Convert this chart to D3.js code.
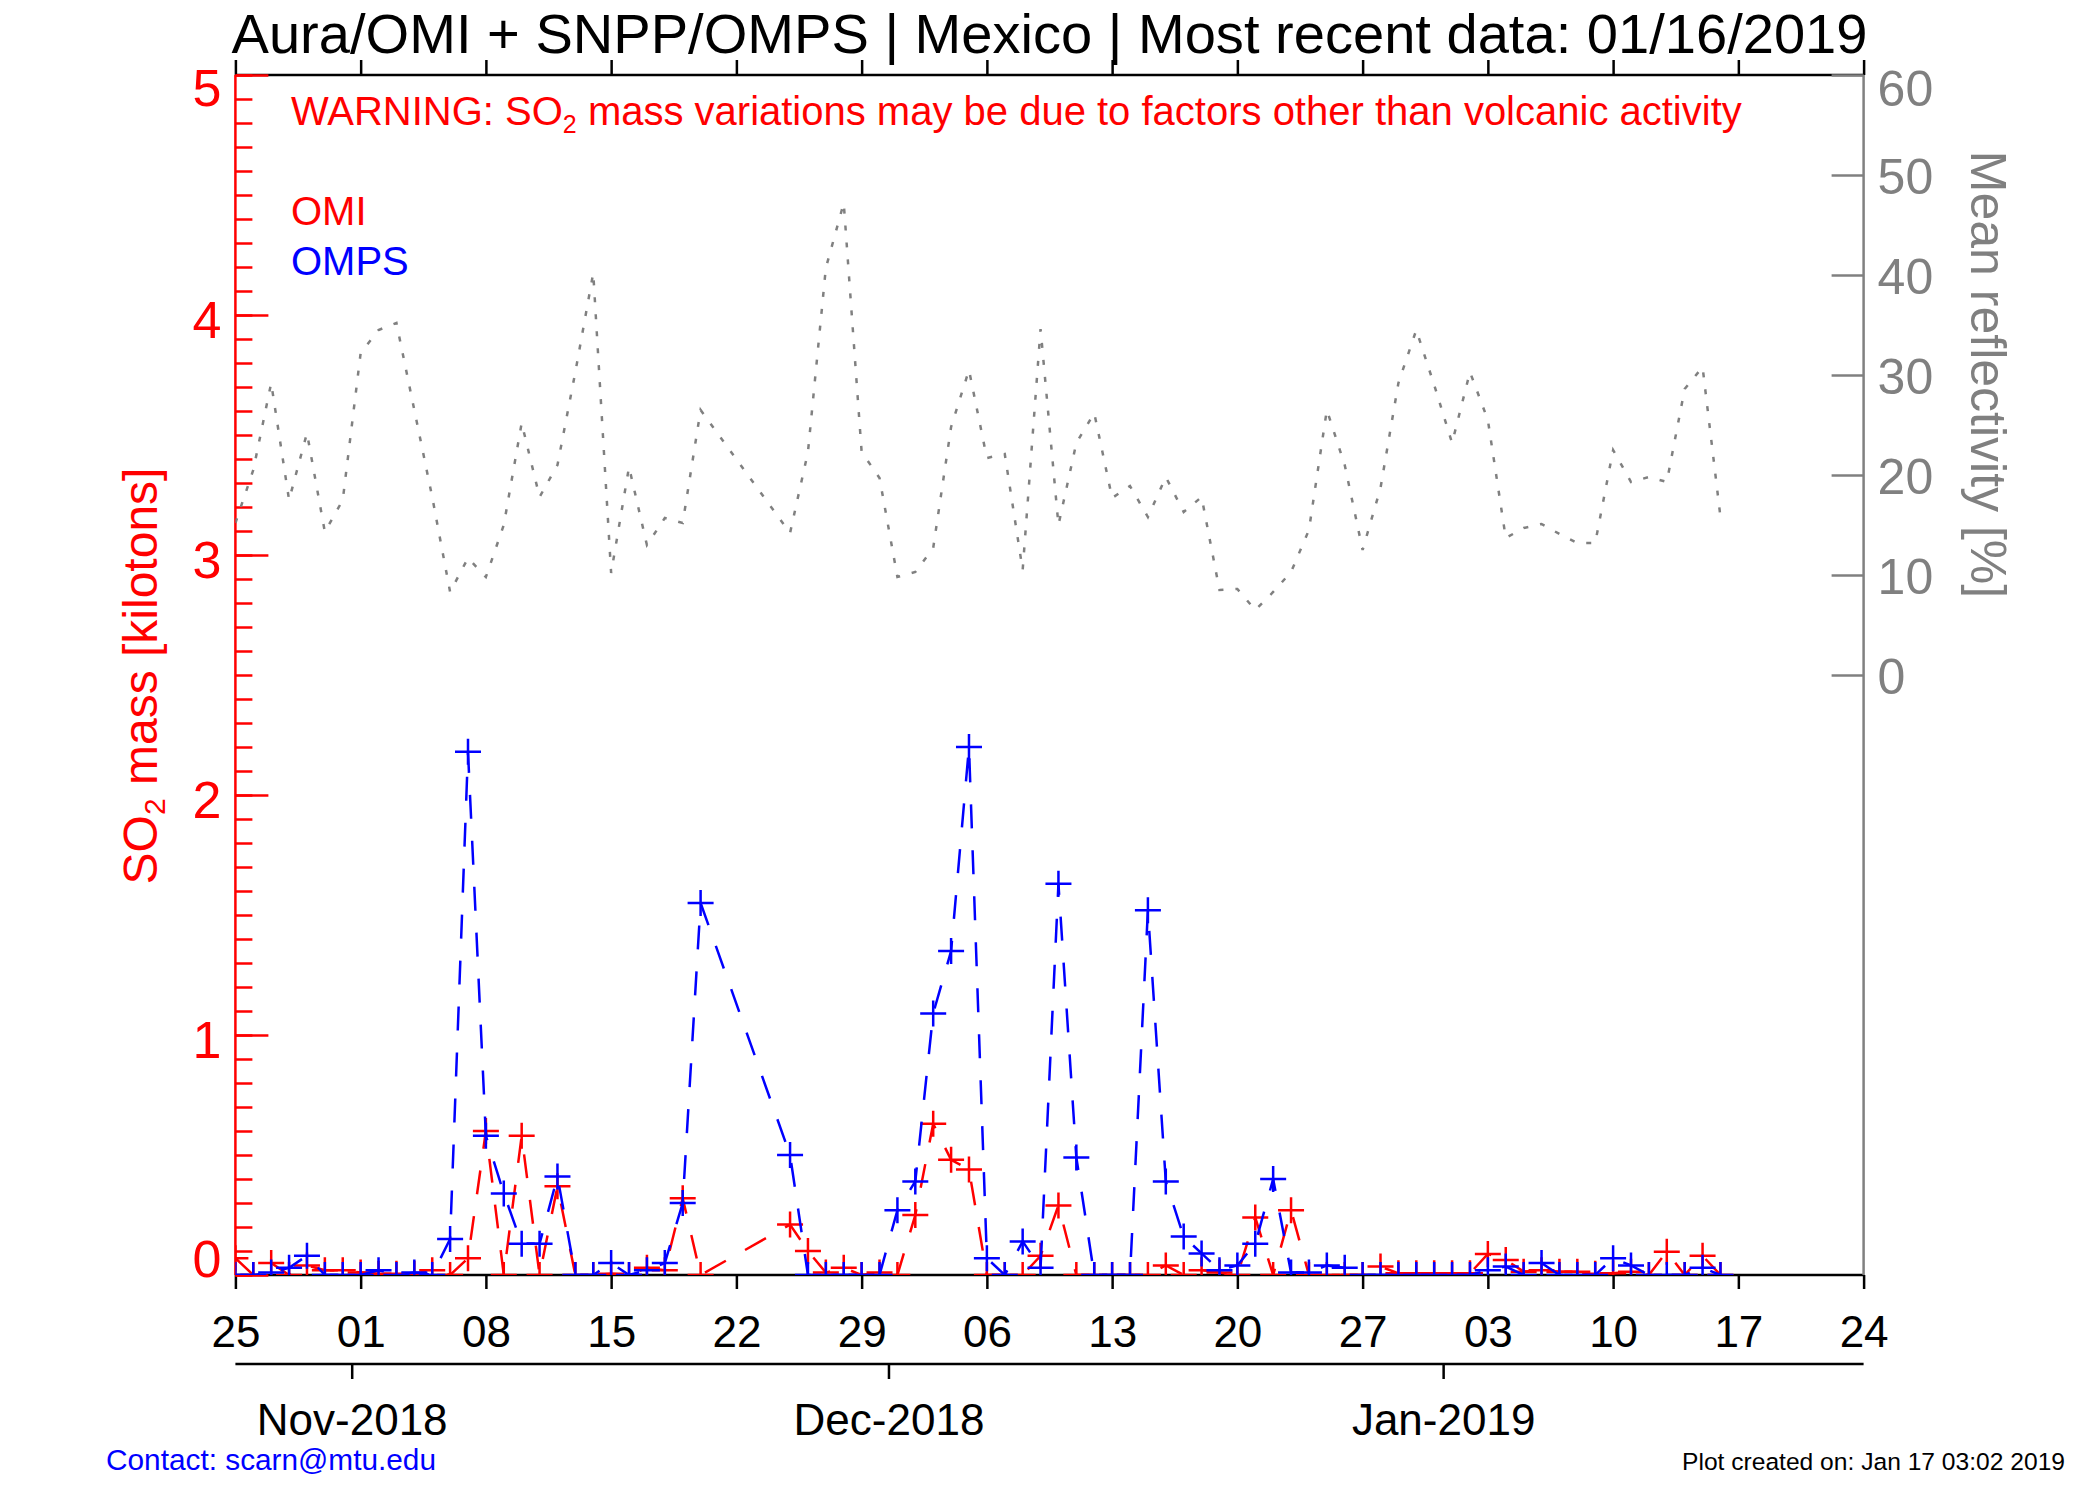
<!DOCTYPE html>
<html><head><meta charset="utf-8">
<script src="https://cdn.jsdelivr.net/npm/d3@7"></script>
<style>
html,body{margin:0;padding:0;background:#fff;}
svg{display:block;}
text{font-family:"Liberation Sans",Arial,Helvetica,sans-serif;}
</style>
</head><body>
<svg id="chart" width="2100" height="1500"></svg>
<script>
// ---------------- DATA ----------------
const axisStart = "2018-10-25";
const axisEnd = "2019-01-24";
const firstObs = "2018-10-25";
const lastObsExclusive = "2019-01-17";

const weekTickDates = ["2018-10-25","2018-11-01","2018-11-08","2018-11-15","2018-11-22","2018-11-29",
  "2018-12-06","2018-12-13","2018-12-20","2018-12-27","2019-01-03","2019-01-10","2019-01-17","2019-01-24"];
const weekTickLabels = ["25","01","08","15","22","29","06","13","20","27","03","10","17","24"];
const monthStarts = ["2018-11-01","2018-12-01","2019-01-01"];
const monthLabels = ["Nov-2018","Dec-2018","Jan-2019"];
const massTicks = [0,1,2,3,4,5];
const massTickLabels = ["0","1","2","3","4","5"];
const reflTicks = [0,10,20,30,40,50,60];
const reflTickLabels = ["0","10","20","30","40","50","60"];

// SO2 mass [kt], one value per day from 2018-10-25 to 2019-01-16 (null = no data)
const omiMass = [
  0.07,0,0.05,0,0.04,0.02,0.02,0.01,0.005,0.005,
  0.005,0.02,0,0.07,0.60,0,0.58,0,0.37,0,
  0,0.005,0,0.03,0.02,0.32,0,null,null,null,
  null,0.21,0.10,0.01,0.03,0,0.01,0,0.25,0.63,
  0.48,0.44,0,0,0,0.08,0.29,0,0,0,
  0,0,0.04,0,0.02,0.01,0,0.24,0,0.27,
  0,0,0,0,0.035,0.007,0.007,0.007,0.007,0.007,
  0.088,0.063,0.014,0.02,0.014,0.014,0.005,0.007,0.014,0,
  0.097,0,0.08,0];
const ompsMass = [
  0,0,0.01,0.03,0.08,0,0,0,0.02,0,
  0.01,0,0.15,2.18,0.58,0.34,0.13,0.13,0.41,0,
  0,0.05,0,0.02,0.05,0.30,1.55,null,null,null,
  null,0.50,0,0,0,0,0,0.27,0.39,1.09,
  1.35,2.20,0.07,0,0.14,0.03,1.63,0.49,0,0,
  0,1.52,0.39,0.16,0.09,0.02,0.04,0.13,0.40,0.01,
  0.01,0.04,0.03,0,0,0,0,0,0,0,
  0.02,0.035,0,0.05,0,0,0,0.07,0.04,0,
  0,0,0.03,0];
// Mean reflectivity [%]
const reflectivity = [
  15.2,20.5,29.2,17.5,24.2,14.3,17.5,32.2,34.5,35.2,
  26.5,17.8,8.3,11.7,9.8,15.0,25.2,17.8,21.0,30.3,
  40.2,10.2,20.8,13.0,15.7,15.2,26.5,null,null,null,
  null,14.2,22.3,40.7,47.2,22.3,19.7,9.8,10.3,12.7,
  24.8,30.5,21.7,22.1,10.5,34.6,15.0,23.2,26.2,17.7,
  18.9,15.8,19.8,16.3,17.8,8.5,8.6,6.5,8.3,10.3,
  14.5,26.5,21.0,12.5,18.7,29.2,34.5,29.0,23.2,30.3,
  25.5,13.7,14.7,15.1,14.1,13.2,13.2,22.5,19.3,19.8,
  19.3,28.6,30.8,15.8];

const titleText = "Aura/OMI + SNPP/OMPS | Mexico | Most recent data: 01/16/2019";

// ---------------- LAYOUT ----------------
const L = 235.4, R = 1863.6, T = 75, B = 1275;
const RED = "#ff0000", BLUE = "#0000ff", GRAY = "#808080";
const svg = d3.select("#chart");
svg.append("rect").attr("width",2100).attr("height",1500).attr("fill","#fff");

const parse = s => new Date(s + "T00:00:00Z");
const days = d3.utcDay.range(parse(firstObs), parse(lastObsExclusive));

const x = d3.scaleUtc().domain([parse(axisStart), parse(axisEnd)]).range([L, R]);
const yL = d3.scaleLinear().domain([0,5]).range([B, T]);
const yR = d3.scaleLinear().domain([0,60]).range([675, T]);

function styleAxis(g, color, fs){
  g.select(".domain").remove();
  g.selectAll(".tick line").attr("stroke", color).attr("stroke-width", 2.5);
  g.selectAll(".tick text").attr("fill", color).attr("font-size", fs)
    .attr("font-family", '"Liberation Sans",Arial,Helvetica,sans-serif');
}

// bottom date axis
const gB = svg.append("g").attr("transform", `translate(0,${B})`)
  .call(d3.axisBottom(x).tickValues(weekTickDates.map(parse))
    .tickFormat((d,i)=>weekTickLabels[i]).tickSize(14).tickPadding(27));
styleAxis(gB, "#000", 44);
svg.append("line").attr("x1",L).attr("x2",R).attr("y1",B).attr("y2",B).attr("stroke","#000").attr("stroke-width",2.5);

// top axis
const gT = svg.append("g").attr("transform", `translate(0,${T})`)
  .call(d3.axisTop(x).tickValues(weekTickDates.map(parse)).tickFormat("").tickSize(15));
styleAxis(gT, "#000", 44);
svg.append("line").attr("x1",L).attr("x2",R).attr("y1",T).attr("y2",T).attr("stroke","#000").attr("stroke-width",2.5);

// month axis (ticks half a day before month start)
const monthPos = monthStarts.map(s => d3.utcHour.offset(parse(s), -12));
const gM = svg.append("g").attr("transform", "translate(0,1364)")
  .call(d3.axisBottom(x).tickValues(monthPos).tickFormat((d,i)=>monthLabels[i]).tickSize(15).tickPadding(25));
styleAxis(gM, "#000", 44);
svg.append("line").attr("x1",L).attr("x2",R).attr("y1",1364).attr("y2",1364).attr("stroke","#000").attr("stroke-width",2.5);

// left axis (SO2 mass)
const gLm = svg.append("g").attr("transform", `translate(${L},0)`)
  .call(d3.axisLeft(yL).tickValues(d3.range(0,51).map(i=>i/10)).tickFormat("").tickSizeInner(-17).tickSizeOuter(0));
styleAxis(gLm, RED, 52);
const gL = svg.append("g").attr("transform", `translate(${L},0)`)
  .call(d3.axisLeft(yL).tickValues(massTicks).tickFormat((d,i)=>massTickLabels[i]).tickSizeInner(-33).tickSizeOuter(0).tickPadding(14));
styleAxis(gL, RED, 52);
gL.selectAll(".tick text").attr("dy", d => d === 5 ? "30px" : (d === 0 ? "1.5px" : "22px"));
svg.append("line").attr("x1",L).attr("x2",L).attr("y1",T).attr("y2",B).attr("stroke",RED).attr("stroke-width",2.5);

// right axis (reflectivity)
const gR = svg.append("g").attr("transform", `translate(${R},0)`)
  .call(d3.axisRight(yR).tickValues(reflTicks).tickFormat((d,i)=>reflTickLabels[i]).tickSizeInner(-32).tickSizeOuter(0).tickPadding(14));
styleAxis(gR, GRAY, 50);
gR.selectAll(".tick text").attr("dy", d => d === 60 ? "30px" : "18px");
svg.append("line").attr("x1",R).attr("x2",R).attr("y1",T).attr("y2",B).attr("stroke",GRAY).attr("stroke-width",2.5);

// ---------------- DATA MARKS ----------------
svg.append("clipPath").attr("id","plotclip").append("rect")
  .attr("x",L).attr("y",T).attr("width",R-L).attr("height",B-T);
const plot = svg.append("g").attr("clip-path","url(#plotclip)");

const toPts = arr => days.map((d,i)=>({date:d, v:arr[i]})).filter(p=>p.v!==null && p.v!==undefined);

// reflectivity dotted line
const reflPts = toPts(reflectivity);
plot.append("path").datum(reflPts)
  .attr("d", d3.line().x(p=>x(p.date)).y(p=>yR(p.v)))
  .attr("fill","none").attr("stroke",GRAY).attr("stroke-width",2.5).attr("stroke-dasharray","5,12");

function drawSeries(arr, color){
  const pts = toPts(arr);
  plot.append("path").datum(pts)
    .attr("d", d3.line().x(p=>x(p.date)).y(p=>yL(p.v)))
    .attr("fill","none").attr("stroke",color).attr("stroke-width",2.5).attr("stroke-dasharray","24,22");
  plot.selectAll(null).data(pts).enter().append("path")
    .attr("d", p => { const cx = x(p.date), cy = yL(p.v);
      return `M${cx-13},${cy}H${cx+13}M${cx},${cy-13}V${cy+13}`; })
    .attr("stroke",color).attr("stroke-width",2.5).attr("fill","none");
}
drawSeries(omiMass, RED);
drawSeries(ompsMass, BLUE);

// ---------------- TEXT ----------------
svg.append("text").attr("x",(L+R)/2).attr("y",53).attr("text-anchor","middle")
  .attr("font-size",56).attr("fill","#000")
  .attr("textLength",1636).attr("lengthAdjust","spacingAndGlyphs").text(titleText);

const warn = svg.append("text").attr("x",291).attr("y",125).attr("font-size",40).attr("fill",RED);
warn.append("tspan").text("WARNING: SO");
warn.append("tspan").attr("font-size",25).attr("dy",8).text("2");
warn.append("tspan").attr("dy",-8).text(" mass variations may be due to factors other than volcanic activity");

svg.append("text").attr("x",291).attr("y",225).attr("font-size",40).attr("fill",RED).text("OMI");
svg.append("text").attr("x",291).attr("y",275).attr("font-size",40).attr("fill",BLUE).text("OMPS");

const lt = svg.append("text").attr("transform","translate(157,676) rotate(-90)")
  .attr("text-anchor","middle").attr("font-size",48).attr("fill",RED);
lt.append("tspan").text("SO");
lt.append("tspan").attr("font-size",30).attr("dy",8).text("2");
lt.append("tspan").attr("dy",-8).text(" mass [kilotons]");

svg.append("text").attr("transform","translate(1971,374.5) rotate(90)")
  .attr("text-anchor","middle").attr("font-size",50).attr("fill",GRAY).text("Mean reflectivity [%]");

svg.append("text").attr("x",106).attr("y",1470).attr("font-size",30).attr("fill",BLUE)
  .attr("textLength",330).attr("lengthAdjust","spacingAndGlyphs").text("Contact: scarn@mtu.edu");
svg.append("text").attr("x",1682).attr("y",1470).attr("font-size",24.5).attr("fill","#000")
  .attr("textLength",383).attr("lengthAdjust","spacingAndGlyphs").text("Plot created on: Jan 17 03:02 2019");
</script>
</body></html>
